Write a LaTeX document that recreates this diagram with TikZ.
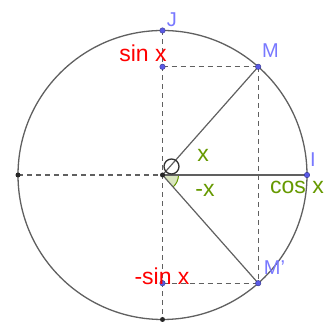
\documentclass[tikz,border=0pt]{standalone}
\usepackage{fontspec}
\setmainfont{Liberation Sans}
\definecolor{ggred}{RGB}{255,0,0}
\definecolor{gggreen}{RGB}{102,153,0}
\definecolor{gglab}{RGB}{120,120,255}
\definecolor{ggpt}{RGB}{90,90,230}
\definecolor{ggline}{RGB}{96,96,96}
\begin{document}
\begin{tikzpicture}[x=1pt,y=1pt,
  circ/.style={draw=ggline,line width=1.3pt},
  seg/.style={draw=ggline,line width=1.2pt},
  dline/.style={draw=ggline,line width=1.2pt,dash pattern=on 5pt off 4pt},
  bpt/.style={circle,fill=ggpt,draw=ggpt!60!black,line width=0.4pt,inner sep=0pt,minimum size=5.5pt},
  kpt/.style={circle,fill=black!85,inner sep=0pt,minimum size=5pt},
  blab/.style={text=gglab,font=\fontsize{20}{20}\selectfont,inner sep=0pt},
  rlab/.style={text=ggred,font=\fontsize{23}{23}\selectfont,inner sep=0pt},
  glab/.style={text=gggreen,font=\fontsize{23}{23}\selectfont,inner sep=0pt}]
\useasboundingbox (0,0) rectangle (333,323);
\coordinate (O) at (162.5,148);
\coordinate (I) at (307,148);
\coordinate (L) at (18,148);
\coordinate (J) at (162.5,292.5);
\coordinate (B) at (162.5,3.5);
\coordinate (M) at (258.2,256.2);
\coordinate (Mp) at (258.2,39.8);
\coordinate (S) at (162.5,256.2);
\coordinate (Sm) at (162.5,39.8);
% angle wedge
\fill[gggreen!25] (O) -- ++(0:16) arc (0:-48.5:16) -- cycle;
\draw[gggreen,line width=1pt] ([shift={(0:16)}]O) arc (0:-48.5:16);
% circle
\draw[circ] (O) circle (144.5);
% dashed
\draw[dline] (L) -- (O);
\draw[dline] (J) -- (B);
\draw[dline] (S) -- (M);
\draw[dline] (M) -- (Mp);
\draw[dline] (Sm) -- (Mp);
% solid
\draw[seg] (O) -- (I);
\draw[seg] (O) -- (M);
\draw[seg] (O) -- (Mp);
% angle marker circle
\draw[black!80,line width=1.3pt] (171.5,156.5) circle (7.5);
% points
\node[kpt] (pO) at (O) {};
\node[kpt] (pL) at (L) {};
\node[kpt] (pB) at (B) {};
\node[bpt] (pI) at (I) {};
\node[bpt] (pJ) at (J) {};
\node[bpt] (pM) at (M) {};
\node[bpt] (pMp) at (Mp) {};
\node[bpt] (pS) at (S) {};
\node[bpt] (pSm) at (Sm) {};
% labels
\node[blab] (tJ) at (172,303) {J};
\node[blab] (tM) at (270.5,272) {M};
\node[blab] (tI) at (313,163) {I};
\node[blab] (tMp) at (274.5,55) {M'};
\node[rlab] (tS) at (143,270) {sin x};
\node[rlab] (tSm) at (162,47) {-sin x};
\node[glab] (tx) at (203,168) {x};
\node[glab] (tmx) at (205,133) {-x};
\node[glab] (tcos) at (297,136) {cos x};
\end{tikzpicture}
\end{document}
